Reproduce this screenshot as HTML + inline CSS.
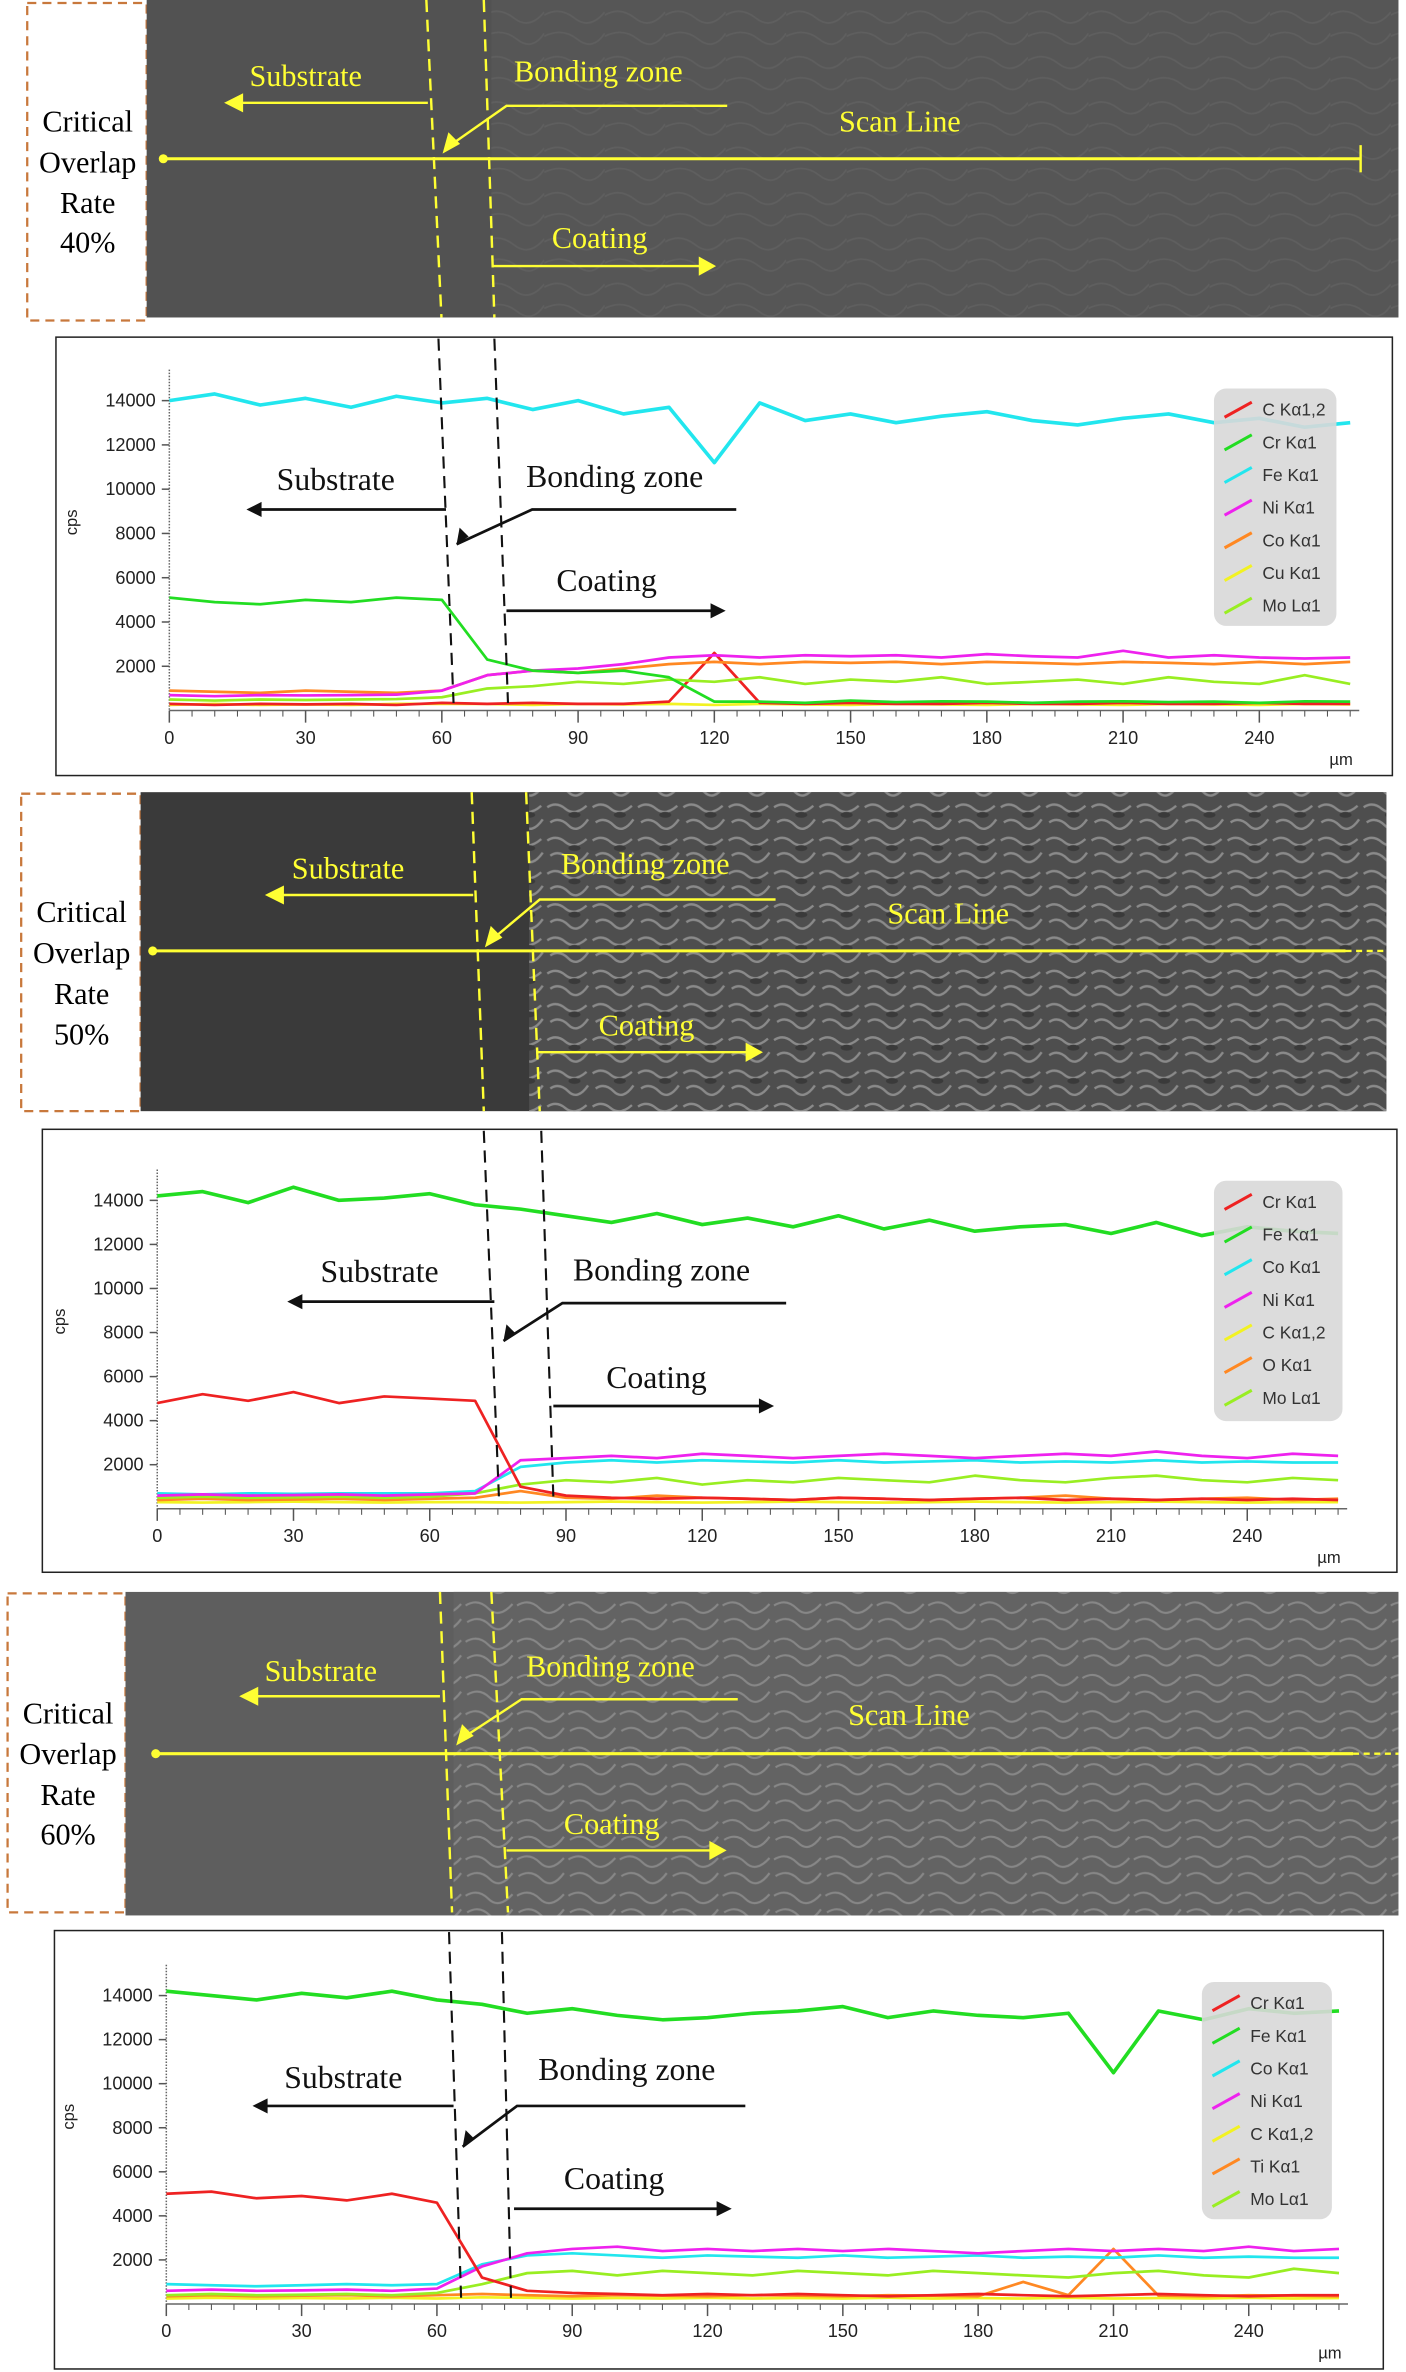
<!DOCTYPE html>
<html><head><meta charset="utf-8">
<style>
html,body{margin:0;padding:0;background:#fff;}
svg{display:block;}
.ser{font-family:"Liberation Serif",serif;}
.sans{font-family:"Liberation Sans",sans-serif;}
</style></head>
<body>
<svg id="fig" width="1406" height="2372" viewBox="0 0 930 1569" xmlns="http://www.w3.org/2000/svg">
<defs>
<pattern id="tex1" width="40" height="30" patternUnits="userSpaceOnUse">
<rect width="40" height="30" fill="#575757"/>
<path d="M0 10 Q10 4 20 12 T40 8 M0 24 Q12 18 22 26 T40 22" stroke="#646464" stroke-width="1.2" fill="none"/>
</pattern>
<pattern id="tex2" width="30" height="22" patternUnits="userSpaceOnUse">
<rect width="30" height="22" fill="#4e4e4e"/>
<path d="M2 6 Q8 2 14 7 T28 5 M4 16 Q10 12 16 18 T29 14" stroke="#8a8a8a" stroke-width="1.6" fill="none"/>
<ellipse cx="20" cy="11" rx="4" ry="2" fill="#3a3a3a"/>
</pattern>
<pattern id="tex3" width="34" height="24" patternUnits="userSpaceOnUse">
<rect width="34" height="24" fill="#646464"/>
<path d="M2 6 Q10 1 17 8 T33 5 M3 17 Q11 12 18 19 T33 15" stroke="#8c8c8c" stroke-width="1.4" fill="none"/>
</pattern>
</defs>

<!-- Panel 1 SEM -->
<g>
<rect x="18" y="2" width="79" height="210" fill="#fff" stroke="#c8783c" stroke-width="1.5" stroke-dasharray="6,4"/>
<text class="ser" x="58" y="87" font-size="20" text-anchor="middle">Critical</text>
<text class="ser" x="58" y="114" font-size="20" text-anchor="middle">Overlap</text>
<text class="ser" x="58" y="141" font-size="20" text-anchor="middle">Rate</text>
<text class="ser" x="58" y="167" font-size="20" text-anchor="middle">40%</text>
<rect x="97" y="0" width="828" height="210" fill="#525252"/>
<rect x="325" y="0" width="600" height="210" fill="url(#tex1)" opacity="0.7"/>
<g stroke="#ffff33" fill="none" stroke-width="1.6">
<line x1="282" y1="0" x2="292" y2="210" stroke-dasharray="8,5"/>
<line x1="320" y1="0" x2="327" y2="210" stroke-dasharray="8,5"/>
<line x1="283" y1="68" x2="156" y2="68"/><path d="M150 68 L160 63 L160 73Z" fill="#ffff33"/>
<polyline points="481,70 335,70 298,96"/><path d="M294 100 L297 89 L303 95Z" fill="#ffff33"/>
<line x1="107" y1="105" x2="900" y2="105" stroke-width="2"/><line x1="900" y1="96" x2="900" y2="114"/>
<line x1="326" y1="176" x2="466" y2="176"/><path d="M472 176 L463 171 L463 181Z" fill="#ffff33"/>
</g>
<circle cx="108" cy="105" r="3" fill="#ffff33"/>
<g class="ser" fill="#ffff33" font-size="20">
<text x="165" y="57">Substrate</text><text x="340" y="54">Bonding zone</text>
<text x="555" y="87">Scan Line</text><text x="365" y="164">Coating</text>
</g>
</g>

<!-- Panel 2 SEM -->
<g>
<rect x="14" y="525" width="79" height="210" fill="#fff" stroke="#c8783c" stroke-width="1.5" stroke-dasharray="6,4"/>
<text class="ser" x="54" y="610" font-size="20" text-anchor="middle">Critical</text>
<text class="ser" x="54" y="637" font-size="20" text-anchor="middle">Overlap</text>
<text class="ser" x="54" y="664" font-size="20" text-anchor="middle">Rate</text>
<text class="ser" x="54" y="691" font-size="20" text-anchor="middle">50%</text>
<rect x="93" y="524" width="824" height="211" fill="#3a3a3a"/>
<rect x="350" y="524" width="567" height="211" fill="url(#tex2)"/>
<g stroke="#ffff33" fill="none" stroke-width="1.6">
<line x1="312" y1="524" x2="320" y2="735" stroke-dasharray="8,5"/>
<line x1="348" y1="524" x2="357" y2="735" stroke-dasharray="8,5"/>
<line x1="313" y1="592" x2="183" y2="592"/><path d="M177 592 L187 587 L187 597Z" fill="#ffff33"/>
<polyline points="513,595 357,595 326,621"/><path d="M322 625 L325 614 L331 620Z" fill="#ffff33"/>
<line x1="100" y1="629" x2="890" y2="629" stroke-width="2"/><line x1="890" y1="629" x2="917" y2="629" stroke-dasharray="4,3"/>
<line x1="355" y1="696" x2="497" y2="696"/><path d="M503 696 L494 691 L494 701Z" fill="#ffff33"/>
</g>
<circle cx="101" cy="629" r="3" fill="#ffff33"/>
<g class="ser" fill="#ffff33" font-size="20">
<text x="193" y="581">Substrate</text><text x="371" y="578">Bonding zone</text>
<text x="587" y="611">Scan Line</text><text x="396" y="685">Coating</text>
</g>
</g>

<!-- Panel 3 SEM -->
<g>
<rect x="5" y="1054" width="78" height="211" fill="#fff" stroke="#c8783c" stroke-width="1.5" stroke-dasharray="6,4"/>
<text class="ser" x="45" y="1140" font-size="20" text-anchor="middle">Critical</text>
<text class="ser" x="45" y="1167" font-size="20" text-anchor="middle">Overlap</text>
<text class="ser" x="45" y="1194" font-size="20" text-anchor="middle">Rate</text>
<text class="ser" x="45" y="1220" font-size="20" text-anchor="middle">60%</text>
<rect x="83" y="1053" width="842" height="214" fill="#5e5e5e"/>
<rect x="300" y="1053" width="625" height="214" fill="url(#tex3)" opacity="0.9"/>
<g stroke="#ffff33" fill="none" stroke-width="1.6">
<line x1="291" y1="1053" x2="299" y2="1265" stroke-dasharray="8,5"/>
<line x1="325" y1="1053" x2="336" y2="1265" stroke-dasharray="8,5"/>
<line x1="291" y1="1122" x2="166" y2="1122"/><path d="M160 1122 L170 1117 L170 1127Z" fill="#ffff33"/>
<polyline points="488,1124 345,1124 307,1149"/><path d="M303 1153 L306 1142 L312 1148Z" fill="#ffff33"/>
<line x1="102" y1="1160" x2="895" y2="1160" stroke-width="2"/><line x1="895" y1="1160" x2="925" y2="1160" stroke-dasharray="4,3"/>
<line x1="335" y1="1224" x2="473" y2="1224"/><path d="M479 1224 L470 1219 L470 1229Z" fill="#ffff33"/>
</g>
<circle cx="103" cy="1160" r="3" fill="#ffff33"/>
<g class="ser" fill="#ffff33" font-size="20">
<text x="175" y="1112">Substrate</text><text x="348" y="1109">Bonding zone</text>
<text x="561" y="1141">Scan Line</text><text x="373" y="1213">Coating</text>
</g>
</g>

<g id="charts"></g>
</svg>

<script>
// ---------- data (µm positions every 10) ----------
const xs = [0,10,20,30,40,50,60,70,80,90,100,110,120,130,140,150,160,170,180,190,200,210,220,230,240,250,260];

// Chart 1 (40%)
const c1Labels = ["C Kα1,2","Cr Kα1","Fe Kα1","Ni Kα1","Co Kα1","Cu Kα1","Mo Lα1"];
const c1_C  = [300,250,300,280,300,250,350,300,350,300,300,400,2600,350,300,350,300,300,350,300,300,350,300,300,350,300,300];
const c1_Cr = [5100,4900,4800,5000,4900,5100,5000,2300,1800,1700,1800,1500,400,400,350,450,380,420,400,350,400,420,380,400,350,420,400];
const c1_Fe = [14000,14300,13800,14100,13700,14200,13900,14100,13600,14000,13400,13700,11200,13900,13100,13400,13000,13300,13500,13100,12900,13200,13400,13000,13200,12800,13000];
const c1_Ni = [700,650,700,680,700,720,900,1600,1800,1900,2100,2400,2500,2400,2500,2450,2500,2400,2550,2450,2400,2700,2400,2500,2400,2350,2400];
const c1_Co = [900,850,800,900,850,800,900,1600,1800,1700,1900,2100,2200,2100,2200,2150,2200,2100,2200,2150,2100,2200,2150,2100,2200,2100,2200];
const c1_Cu = [250,300,250,280,250,300,300,300,250,300,280,300,250,300,280,250,300,280,250,300,280,250,300,280,250,300,280];
const c1_Mo = [500,450,500,480,500,520,600,1000,1100,1300,1200,1400,1300,1500,1200,1400,1300,1500,1200,1300,1400,1200,1500,1300,1200,1600,1200];

// Chart 2 (50%)
const c2Labels = ["Cr Kα1","Fe Kα1","Co Kα1","Ni Kα1","C Kα1,2","O Kα1","Mo Lα1"];
const c2_Cr = [4800,5200,4900,5300,4800,5100,5000,4900,1000,600,500,450,500,450,400,500,450,400,450,500,400,450,400,450,400,450,400];
const c2_Fe = [14200,14400,13900,14600,14000,14100,14300,13800,13600,13300,13000,13400,12900,13200,12800,13300,12700,13100,12600,12800,12900,12500,13000,12400,12800,12600,12500];
const c2_Co = [700,650,700,680,700,700,700,800,1900,2100,2200,2100,2200,2150,2100,2200,2100,2150,2200,2100,2150,2100,2200,2100,2150,2100,2100];
const c2_Ni = [600,650,600,620,650,600,650,700,2200,2300,2400,2300,2500,2400,2300,2400,2500,2400,2300,2400,2500,2400,2600,2400,2300,2500,2400];
const c2_C  = [300,280,300,320,300,280,300,300,280,300,320,300,280,300,320,300,280,300,320,300,280,300,320,300,280,300,300];
const c2_O  = [400,450,400,420,450,400,450,500,800,500,450,600,500,450,400,500,450,400,450,500,600,450,400,450,500,400,450];
const c2_Mo = [500,550,500,520,550,500,550,700,1100,1300,1200,1400,1100,1300,1200,1400,1300,1200,1500,1300,1200,1400,1500,1300,1200,1400,1300];

// Chart 3 (60%)
const c3Labels = ["Cr Kα1","Fe Kα1","Co Kα1","Ni Kα1","C Kα1,2","Ti Kα1","Mo Lα1"];
const c3_Cr = [5000,5100,4800,4900,4700,5000,4600,1200,600,500,450,400,450,400,450,400,350,400,450,400,350,400,450,400,350,400,400];
const c3_Fe = [14200,14000,13800,14100,13900,14200,13800,13600,13200,13400,13100,12900,13000,13200,13300,13500,13000,13300,13100,13000,13200,10500,13300,12900,13400,13200,13300];
const c3_Co = [900,850,800,850,900,850,900,1800,2200,2300,2200,2100,2200,2150,2100,2200,2100,2150,2200,2100,2150,2100,2200,2100,2150,2100,2100];
const c3_Ni = [600,650,600,620,650,600,700,1700,2300,2500,2600,2400,2500,2400,2500,2400,2500,2400,2300,2400,2500,2400,2500,2400,2600,2400,2500];
const c3_C  = [250,280,250,270,250,280,250,300,280,250,270,250,280,250,270,250,280,250,270,250,280,250,270,250,280,250,270];
const c3_Ti = [350,400,350,380,400,350,400,450,400,350,400,380,350,400,380,350,400,380,350,1000,400,2500,380,350,400,380,350];
const c3_Mo = [400,450,400,420,450,400,500,900,1400,1500,1300,1500,1400,1300,1500,1400,1300,1500,1400,1300,1200,1400,1500,1300,1200,1600,1400];

const xTicks = [0,30,60,90,120,150,180,210,240];
const yTicks = [2000,4000,6000,8000,10000,12000,14000];

const charts = [
  {id:"chart-40", box:[37,223,884,290], x0:112, x240:833, y0:470, y14k:265,
   names:c1Labels, series:[c1_C,c1_Cr,c1_Fe,c1_Ni,c1_Co,c1_Cu,c1_Mo],
   colors:["#ee2222","#22dd22","#22e6ee","#ee22ee","#ff8822","#f2f222","#99ee22"],
   order:[2,5,0,6,4,3,1], leg:[803,257,81,157],
   dash:[[290,224,300,465],[327,224,336,465]],
   sub:[183,324,295,337,163], bond:[348,322,487,337,352,302,360], coat:[368,391,335,404,480]},
  {id:"chart-50", box:[28,747,896,293], x0:104, x240:825, y0:998, y14k:794,
   names:c2Labels, series:[c2_Cr,c2_Fe,c2_Co,c2_Ni,c2_C,c2_O,c2_Mo],
   colors:["#ee2222","#22dd22","#22e6ee","#ee22ee","#f2f222","#ff8822","#99ee22"],
   order:[1,4,5,6,2,3,0], leg:[803,781,85,159],
   dash:[[320,748,330,990],[358,748,366,990]],
   sub:[212,848,327,861,190], bond:[379,847,520,862,372,333,887], coat:[401,918,366,930,512]},
  {id:"chart-60", box:[36,1277,879,290], x0:110, x240:826, y0:1524, y14k:1320,
   names:c3Labels, series:[c3_Cr,c3_Fe,c3_Co,c3_Ni,c3_C,c3_Ti,c3_Mo],
   colors:["#ee2222","#22dd22","#22e6ee","#ee22ee","#f2f222","#ff8822","#99ee22"],
   order:[1,4,5,6,2,3,0], leg:[795,1311,86,157],
   dash:[[297,1278,305,1520],[332,1278,338,1520]],
   sub:[188,1381,300,1393,167], bond:[356,1376,493,1393,342,306,1420], coat:[373,1448,340,1461,484]}
];

const NS = "http://www.w3.org/2000/svg";
const root = document.getElementById("charts");
function mk(tag, attrs, parent){const e=document.createElementNS(NS,tag);for(const k in attrs)e.setAttribute(k,attrs[k]);parent.appendChild(e);return e;}

charts.forEach(function(c){
  const g = mk("g",{},root);
  
  
  const sx = v => c.x0 + (v/240)*(c.x240-c.x0);
  const sy = v => c.y0 - (v/14000)*(c.y0-c.y14k);
  const fr = mk("rect",{x:c.box[0],y:c.box[1],width:c.box[2],height:c.box[3],fill:"#fff",stroke:"#222","stroke-width":1},g);
  
  
  const yTop = sy(15400);
  const ya = mk("line",{x1:c.x0,y1:yTop,x2:c.x0,y2:c.y0,stroke:"#666","stroke-width":1,"stroke-dasharray":"1,1"},g);
  
  
  const xa = mk("line",{x1:c.x0,y1:c.y0,x2:sx(262),y2:c.y0,stroke:"#666","stroke-width":1},g);
  
  
  for(let v=0; v<=260; v+=5){
    const major = v%30===0;
    mk("line",{x1:sx(v),y1:c.y0,x2:sx(v),y2:c.y0+(major?8:4),stroke:"#555","stroke-width":major?1:0.7},g);
  }
  xTicks.forEach(function(v){
    const t = mk("text",{x:sx(v),y:c.y0+22,"font-size":12,"text-anchor":"middle",fill:"#222",class:"sans"},g);
    t.textContent = v;
    
    
  });
  yTicks.forEach(function(v){
    mk("line",{x1:c.x0-5,y1:sy(v),x2:c.x0,y2:sy(v),stroke:"#555"},g);
    const t = mk("text",{x:c.x0-9,y:sy(v)+4,"font-size":12,"text-anchor":"end",fill:"#222",class:"sans"},g);
    t.textContent = v;
    
    
  });
  const cps = mk("text",{x:0,y:0,"font-size":11,"text-anchor":"middle",fill:"#222",class:"sans",transform:"translate("+(c.x0-61)+","+((sy(8000)+sy(9000))/2)+") rotate(-90)"},g);
  cps.textContent = "cps";
  
  
  const um = mk("text",{x:sx(258),y:c.y0+36,"font-size":11,"text-anchor":"middle",fill:"#222",class:"sans"},g);
  um.textContent = "µm";
  
  
  c.order.forEach(function(i){
    const d = c.series[i];
    const pts = d.map((v,k)=>sx(xs[k]).toFixed(1)+","+sy(v).toFixed(1)).join(" ");
    const big = Math.max.apply(null,d) > 10000;
    const pl = mk("polyline",{points:pts,fill:"none",stroke:c.colors[i],"stroke-width":big?2.4:1.8,"stroke-linejoin":"round"},g);
    
    
  });
  const L = c.leg;
  const lg = mk("rect",{x:L[0],y:L[1],width:L[2],height:L[3],rx:8,fill:"#d8d8d8",opacity:0.9},g);
  
  
  c.names.forEach(function(n,i){
    const yy = L[1]+14+i*21.6;
    const ln = mk("line",{x1:L[0]+7,y1:yy+5,x2:L[0]+25,y2:yy-5,stroke:c.colors[i],"stroke-width":2},g);
    
    
    const t = mk("text",{x:L[0]+32,y:yy+4,"font-size":11.5,fill:"#333",class:"sans"},g);
    t.textContent = n;
    
    
  });
  c.dash.forEach(function(d){
    const dl = mk("line",{x1:d[0],y1:d[1],x2:d[2],y2:d[3],stroke:"#111","stroke-width":1.4,"stroke-dasharray":"8,5"},g);
    
    
  });
  const s=c.sub, b=c.bond, co=c.coat;
  let t = mk("text",{x:s[0],y:s[1],"font-size":21,class:"ser",fill:"#111"},g); t.textContent="Substrate";
  
  
  mk("line",{x1:s[2],y1:s[3],x2:s[4]+7,y2:s[3],stroke:"#111","stroke-width":1.8},g);
  mk("path",{d:"M"+s[4]+" "+s[3]+" l10 -5 l0 10Z",fill:"#111"},g);
  t = mk("text",{x:b[0],y:b[1],"font-size":21,class:"ser",fill:"#111"},g); t.textContent="Bonding zone";
  
  
  mk("polyline",{points:b[2]+","+b[3]+" "+b[4]+","+b[3]+" "+b[5]+","+b[6],fill:"none",stroke:"#111","stroke-width":1.8},g);
  mk("path",{d:"M"+b[5]+" "+b[6]+" l2 -11 l6 6Z",fill:"#111"},g);
  t = mk("text",{x:co[0],y:co[1],"font-size":21,class:"ser",fill:"#111"},g); t.textContent="Coating";
  
  
  mk("line",{x1:co[2],y1:co[3],x2:co[4]-7,y2:co[3],stroke:"#111","stroke-width":1.8},g);
  mk("path",{d:"M"+co[4]+" "+co[3]+" l-10 -5 l0 10Z",fill:"#111"},g);
});
</script>
</body></html>
